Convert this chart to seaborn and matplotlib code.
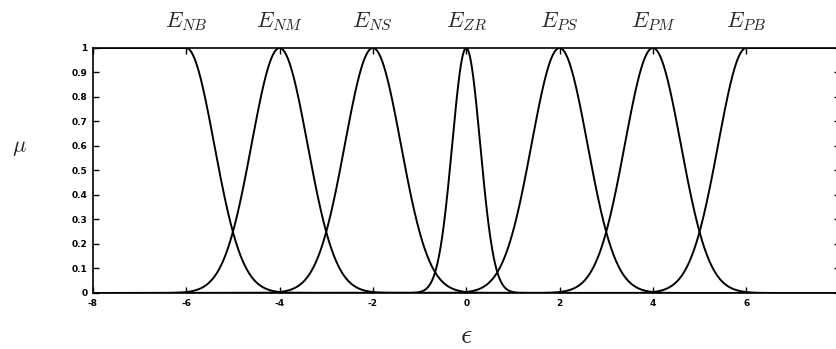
import numpy as np
import pandas as pd
import matplotlib
matplotlib.use("Agg")
import matplotlib.pyplot as plt
import seaborn as sns

# Fuzzy sets for the error variable epsilon
set_names = ["NB", "NM", "NS", "ZR", "PS", "PM", "PB"]
centers = [-6, -4, -2, 0, 2, 4, 6]
sigmas = [0.6, 0.6, 0.6, 0.3, 0.6, 0.6, 0.6]
x_ticks = [-8, -6, -4, -2, 0, 2, 4, 6, 8]
x_tick_labels = ["-8", "-6", "-4", "-2", "0", "2", "4", "6", ""]
y_ticks = [0, 0.1, 0.2, 0.3, 0.4, 0.5, 0.6, 0.7, 0.8, 0.9, 1]
y_tick_labels = ["0", "0.1", "0.2", "0.3", "0.4", "0.5", "0.6", "0.7", "0.8", "0.9", "1"]

sns.set_theme(style="white")
plt.rcParams["mathtext.fontset"] = "cm"

eps = np.linspace(-8, 8, 1601)
rows = []
for name, c, s in zip(set_names, centers, sigmas):
    mu = np.exp(-((eps - c) ** 2) / (2 * s ** 2))
    if name == "NB":
        mu = np.where(eps <= c, 1.0, mu)
    if name == "PB":
        mu = np.where(eps >= c, 1.0, mu)
    rows.append(pd.DataFrame({"eps": eps, "mu": mu, "set": name}))
df = pd.concat(rows, ignore_index=True)

fig = plt.figure(figsize=(8.37, 3.49), dpi=100)
ax = fig.add_axes([0.111, 0.1605, 0.892, 0.702])

sns.lineplot(data=df, x="eps", y="mu", units="set", estimator=None,
             color="black", linewidth=1.4, ax=ax, legend=False)

ax.set_xlim(-8, 8)
ax.set_ylim(0, 1)
ax.set_xticks(x_ticks)
ax.set_xticklabels(x_tick_labels, fontsize=6.5, fontweight="bold")
ax.set_yticks(y_ticks)
ax.set_yticklabels(y_tick_labels, fontsize=6.5, fontweight="bold")
ax.tick_params(direction="in", length=4, width=1, top=True, right=True,
               bottom=True, left=True, pad=4, colors="black")
for sp in ax.spines.values():
    sp.set_visible(True)
    sp.set_color("black")
    sp.set_linewidth(1.2)

ax.set_xlabel(r"$\epsilon$", fontsize=20)
ax.xaxis.set_label_coords(0.5, -0.115)
ax.set_ylabel(r"$\mu$", fontsize=16, rotation=0, va="center")
ax.yaxis.set_label_coords(-0.098, 0.59)

for name, c in zip(set_names, centers):
    ax.text(c, 1.06, r"$E_{%s}$" % name, fontsize=16, ha="center", va="bottom",
            transform=ax.transData, clip_on=False)

fig.savefig("out.png", dpi=100, facecolor="white")
